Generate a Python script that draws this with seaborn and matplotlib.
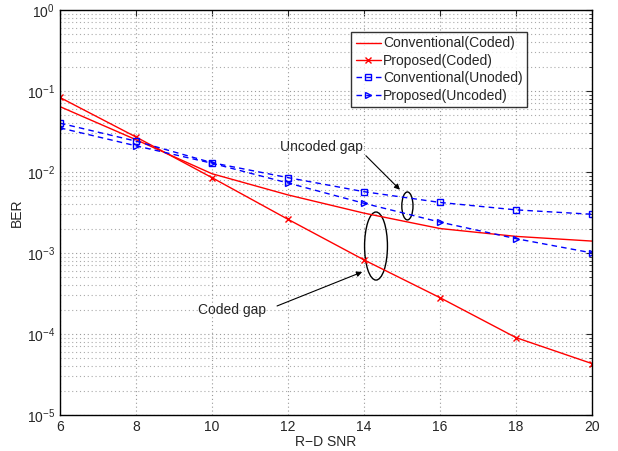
import numpy as np
import pandas as pd
import seaborn as sns
import matplotlib
matplotlib.use('Agg')
import matplotlib.pyplot as plt
from matplotlib.patches import Ellipse

# valores
snr = [6, 8, 10, 12, 14, 16, 18, 20]
conv_coded = [0.064, 0.025, 0.0095, 0.0052, 0.0031, 0.0020, 0.0016, 0.0014]
prop_coded = [0.083, 0.027, 0.0085, 0.0026, 0.00082, 0.00028, 0.00009, 0.000043]
conv_uncoded = [0.040, 0.024, 0.013, 0.0085, 0.0057, 0.0042, 0.0034, 0.0030]
prop_uncoded = [0.035, 0.021, 0.0128, 0.0073, 0.0041, 0.0024, 0.0015, 0.0010]
names = ['Conventional(Coded)', 'Proposed(Coded)', 'Conventional(Unoded)', 'Proposed(Uncoded)']

df = pd.DataFrame({
    'SNR': snr * 4,
    'BER': conv_coded + prop_coded + conv_uncoded + prop_uncoded,
    'Scheme': [n for n in names for _ in snr],
})

sns.set_style('white')
plt.rcParams['font.family'] = ['Liberation Sans', 'DejaVu Sans']

estilos = {
    names[0]: dict(color='red', linestyle='-', marker=''),
    names[1]: dict(color='red', linestyle='-', marker='x', markersize=5, mew=1, mec='red'),
    names[2]: dict(color='blue', linestyle=(0, (4, 3)), marker='s', markersize=4,
                   mfc='none', mec='blue', mew=1),
    names[3]: dict(color='blue', linestyle=(0, (4, 3)), marker='>', markersize=5,
                   mfc='none', mec='blue', mew=1),
}

fig, ax = plt.subplots(figsize=(6.18, 4.51), dpi=100)
fig.subplots_adjust(left=0.097, right=0.958, top=0.978, bottom=0.08)

for n in names:
    sns.lineplot(data=df[df['Scheme'] == n], x='SNR', y='BER', ax=ax, label=n,
                 linewidth=1, **estilos[n])

ax.set_yscale('log')
ax.set_xlim(6, 20)
ax.set_ylim(1e-5, 1)
ax.set_xticks(snr)
ax.set_xlabel('R\u2212D SNR', fontsize=10, labelpad=1)
ax.set_ylabel('BER', fontsize=10, labelpad=2)
ax.tick_params(axis='both', which='both', direction='in', top=True, right=True, labelsize=10)
ax.tick_params(which='major', length=4)
ax.tick_params(which='minor', length=2)
ax.grid(True, which='major', linestyle=(0, (1, 2.5)), color='#999999', linewidth=0.8)
ax.grid(True, which='minor', axis='y', linestyle=(0, (1, 2.5)), color='#aaaaaa', linewidth=0.8)
for s in ax.spines.values():
    s.set_color('black')
    s.set_linewidth(1)

leg = ax.legend(loc='upper right', bbox_to_anchor=(0.878, 0.945), fontsize=10,
                frameon=True, fancybox=False, edgecolor='black', handlelength=1.8,
                handletextpad=0.2, borderpad=0.3, labelspacing=0.25, borderaxespad=0)
leg.get_frame().set_linewidth(1)

# elipses y anotaciones
ax.add_patch(Ellipse((0.594, 0.417), 0.043, 0.168, transform=ax.transAxes,
                     fill=False, edgecolor='black', linewidth=1))
ax.add_patch(Ellipse((0.653, 0.516), 0.021, 0.069, transform=ax.transAxes,
                     fill=False, edgecolor='black', linewidth=1))
ax.text(0.323, 0.259, 'Coded gap', transform=ax.transAxes, ha='center', va='center', fontsize=10)
ax.text(0.492, 0.662, 'Uncoded gap', transform=ax.transAxes, ha='center', va='center', fontsize=10)
flecha = dict(arrowstyle='-|>', color='black', lw=0.8, shrinkA=0, shrinkB=0, mutation_scale=8)
ax.annotate('', xy=(0.568, 0.353), xycoords='axes fraction',
            xytext=(0.408, 0.269), textcoords='axes fraction', arrowprops=flecha)
ax.annotate('', xy=(0.639, 0.556), xycoords='axes fraction',
            xytext=(0.575, 0.640), textcoords='axes fraction', arrowprops=flecha)

plt.savefig('out.png', dpi=100)
